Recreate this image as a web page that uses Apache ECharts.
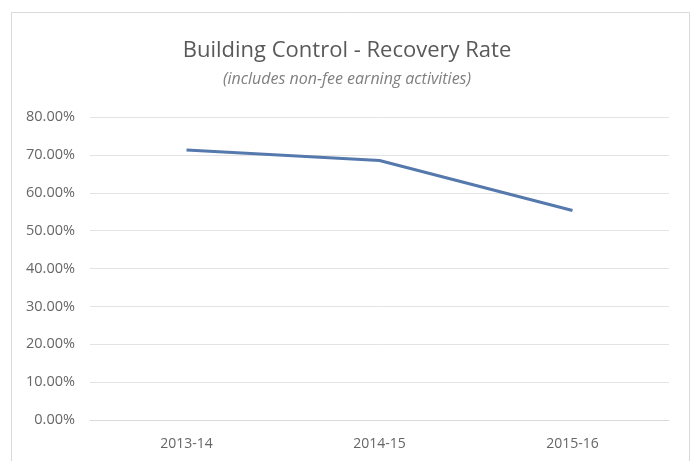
<!DOCTYPE html>
<html>
<head>
<meta charset="utf-8">
<script src="https://cdn.jsdelivr.net/npm/echarts@6/dist/echarts.min.js"></script>
<style>
  html, body { margin: 0; padding: 0; background: #fff; }
  #chart { width: 694px; height: 461px; }
</style>
</head>
<body>
<div id="chart"></div>
<script>
// Recovery rate by financial year (percent)
const years = ['2013-14', '2014-15', '2015-16'];
const recoveryRate = [71.3, 68.5, 55.3];
const yTicks = { min: 0, max: 80, interval: 10 };

const chart = echarts.init(document.getElementById('chart'));
chart.setOption({
  backgroundColor: '#fff',
  animation: false,
  graphic: [{
    type: 'rect',
    shape: { x: 11.5, y: 12.5, width: 678, height: 460 },
    style: { fill: 'none', stroke: '#d9d9d9', lineWidth: 1 },
    silent: true
  }],
  title: {
    text: 'Building Control - Recovery Rate',
    subtext: '(includes non-fee earning activities)',
    left: 'center',
    top: 35,
    itemGap: 9,
    textStyle: { fontFamily: 'Open Sans', fontSize: 22, fontWeight: 'normal', color: '#595959' },
    subtextStyle: { fontFamily: 'Open Sans', fontSize: 16, fontStyle: 'italic', color: '#7f7f7f' }
  },
  grid: { left: 90, right: 25, top: 117, bottom: 41, containLabel: false },
  xAxis: {
    type: 'category',
    data: years,
    boundaryGap: true,
    axisLine: { show: true, lineStyle: { color: '#d9d9d9' } },
    axisTick: { show: false },
    axisLabel: { color: '#666666', fontFamily: 'Open Sans', fontSize: 14, margin: 17 }
  },
  yAxis: {
    type: 'value',
    min: yTicks.min,
    max: yTicks.max,
    interval: yTicks.interval,
    axisLine: { show: false },
    axisTick: { show: false },
    splitLine: { lineStyle: { color: '#e3e3e3', width: 1 } },
    axisLabel: {
      color: '#666666',
      fontFamily: 'Open Sans',
      fontSize: 14.5,
      margin: 15,
      formatter: v => v.toFixed(2) + '%'
    }
  },
  series: [{
    type: 'line',
    data: recoveryRate,
    showSymbol: false,
    lineStyle: { color: '#5679ad', width: 3 },
    itemStyle: { color: '#5679ad' }
  }]
});
</script>
</body>
</html>
